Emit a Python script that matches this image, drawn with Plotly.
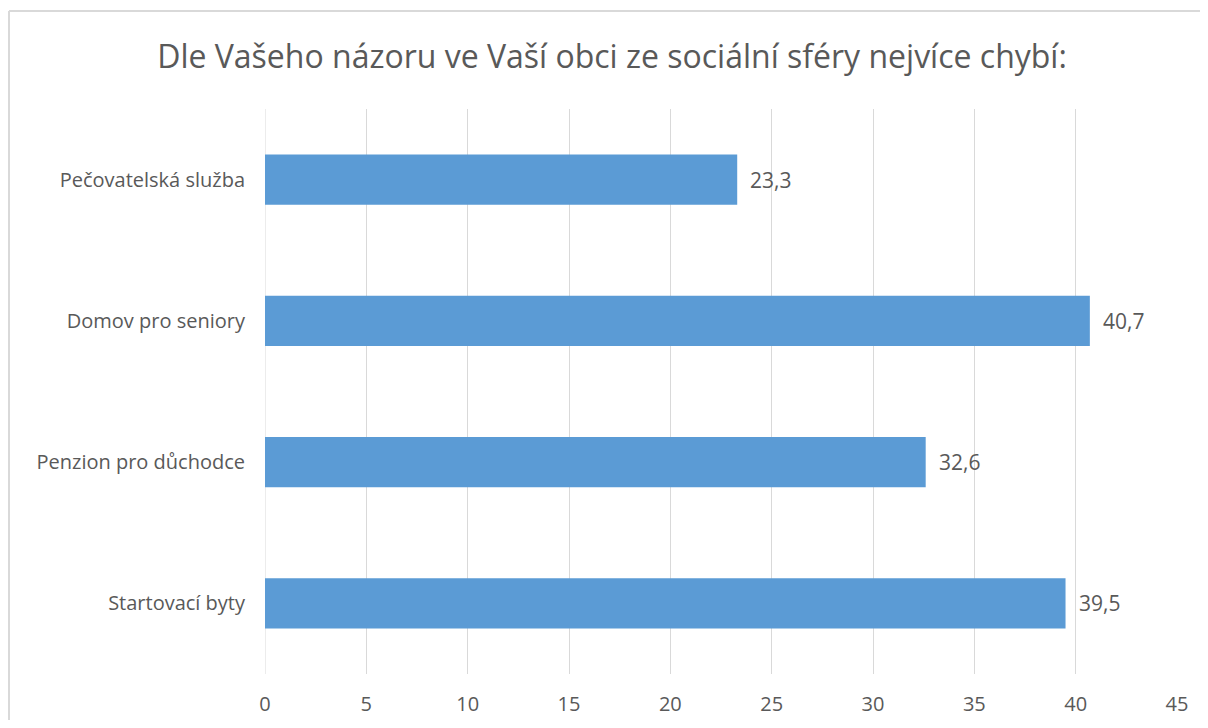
import plotly.graph_objects as go

categories = ["Pečovatelská služba", "Domov pro seniory", "Penzion pro důchodce", "Startovací byty"]
values = [23.3, 40.7, 32.6, 39.5]
x_ticks = [0, 5, 10, 15, 20, 25, 30, 35, 40, 45]
title_text = "Dle Vašeho názoru ve Vaší obci ze sociální sféry nejvíce chybí:"

# page body has an 8px margin, so the figure is offset by 8px
OFF = 8
W, H = 1208 - OFF, 728 - 2 * OFF
L, T = 265 - OFF, 109 - OFF
R = W - (1177 - OFF)
B = H - (674 - OFF)
pw, ph = W - L - R, H - T - B

FONT = "Open Sans"
TXT = "#595959"
BORDER = "#d9d9d9"

fig = go.Figure()
fig.add_trace(go.Bar(
    y=categories, x=values, orientation="h",
    marker=dict(color="#5b9bd5", line=dict(width=0)),
    hoverinfo="skip",
))

for c, v in zip(categories, values):
    fig.add_annotation(
        x=v, y=c, xref="x", yref="y",
        text=f"{v:.1f}".replace(".", ","),
        showarrow=False, xanchor="left", yanchor="middle", xshift=11,
        font=dict(family=FONT, size=21, color=TXT),
    )

# chart border: left and top edges only (right/bottom lie outside the view)
bx0 = (1 - L) / pw
bx1 = (W + 20 - L) / pw
by_top = (T + ph - (11 - OFF)) / ph
by_bot = (T + ph - (H + 20)) / ph
fig.add_shape(type="line", xref="paper", yref="paper", x0=bx0, x1=bx0, y0=by_bot, y1=by_top,
              line=dict(color=BORDER, width=2), layer="below")
fig.add_shape(type="line", xref="paper", yref="paper", x0=bx0, x1=bx1, y0=by_top, y1=by_top,
              line=dict(color=BORDER, width=2), layer="below")

fig.update_layout(
    width=W, height=H,
    margin=dict(l=L, r=R, t=T, b=B, pad=0, autoexpand=False),
    paper_bgcolor="white", plot_bgcolor="white",
    separators=", ",
    showlegend=False,
    bargap=0.645,
    title=dict(
        text=title_text, x=(612 - OFF) / W, xanchor="center", xref="container",
        y=1 - (57 - OFF) / H, yanchor="middle", yref="container",
        font=dict(family=FONT, size=32, color=TXT),
    ),
    xaxis=dict(
        range=[0, 45], tickvals=x_ticks, ticktext=[str(t) for t in x_ticks],
        showgrid=True, gridcolor="#d9d9d9", gridwidth=1,
        zeroline=False, showline=False, ticks="", automargin=False,
        ticklabelstandoff=16,
        tickfont=dict(family=FONT, size=20, color=TXT),
        fixedrange=True,
    ),
    yaxis=dict(
        autorange="reversed", showgrid=False, zeroline=False, showline=False,
        ticks="", ticklabelstandoff=19, automargin=False,
        tickfont=dict(family=FONT, size=20, color=TXT),
        fixedrange=True,
    ),
)
fig.add_vline(x=0, line=dict(color="#d9d9d9", width=1), layer="below")

fig.write_html("out.html")
